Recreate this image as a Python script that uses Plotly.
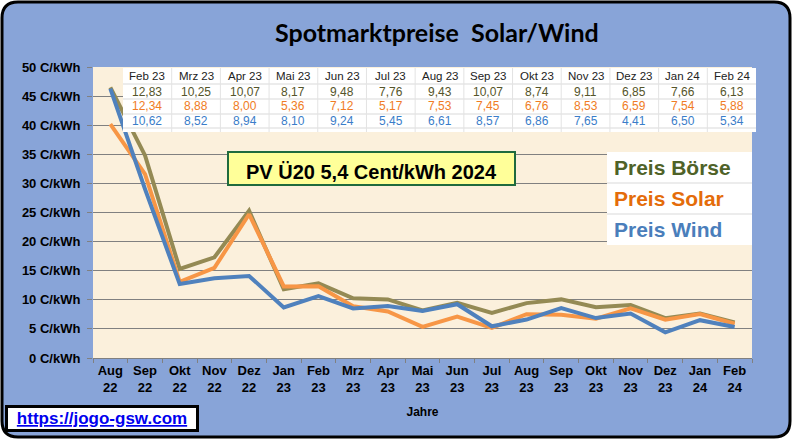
import plotly.graph_objects as go

# monthly spot market prices (ct/kWh), Aug 22 .. Feb 24
months = ["Aug 22", "Sep 22", "Okt 22", "Nov 22", "Dez 22", "Jan 23", "Feb 23", "Mrz 23",
          "Apr 23", "Mai 23", "Jun 23", "Jul 23", "Aug 23", "Sep 23", "Okt 23", "Nov 23",
          "Dez 23", "Jan 24", "Feb 24"]
boerse = [46.5, 34.8, 15.3, 17.3, 25.3, 11.8, 12.83, 10.25, 10.07, 8.17, 9.48, 7.76,
          9.43, 10.07, 8.74, 9.11, 6.85, 7.66, 6.13]
solar = [40.2, 31.6, 13.1, 15.5, 24.7, 12.3, 12.34, 8.88, 8.00, 5.36, 7.12, 5.17,
         7.53, 7.45, 6.76, 8.53, 6.59, 7.54, 5.88]
wind = [46.3, 29.0, 12.7, 13.7, 14.1, 8.7, 10.62, 8.52, 8.94, 8.10, 9.24, 5.45,
        6.61, 8.57, 6.86, 7.65, 4.41, 6.50, 5.34]
y_ticks = list(range(0, 55, 5))
table_start = 6  # table shows Feb 23 onwards

# figure geometry (pixels) -> helpers to place things in paper coords
W, H = 792, 442
L, R, T, B = 93, 40, 67, 84
pw, ph = W - L - R, H - T - B


def px(x):
    return (x - L) / pw


def py(y):
    return (H - B - y) / ph


c_boerse, c_solar, c_wind = "#948a54", "#f79646", "#4f81bd"
arial = "Liberation Sans, Arial, sans-serif"

fig = go.Figure()
for name, vals, col in [("Preis Börse", boerse, c_boerse),
                        ("Preis Solar", solar, c_solar),
                        ("Preis Wind", wind, c_wind)]:
    fig.add_trace(go.Scatter(x=months, y=vals, mode="lines", name=name,
                             line=dict(color=col, width=4)))

# rounded blue frame around everything
x0, y0, x1, y1, r = 2, 2, 790, 437, 16
frame = (f"M {px(x0 + r)},{py(y0)} L {px(x1 - r)},{py(y0)} Q {px(x1)},{py(y0)} {px(x1)},{py(y0 + r)} "
         f"L {px(x1)},{py(y1 - r)} Q {px(x1)},{py(y1)} {px(x1 - r)},{py(y1)} "
         f"L {px(x0 + r)},{py(y1)} Q {px(x0)},{py(y1)} {px(x0)},{py(y1 - r)} "
         f"L {px(x0)},{py(y0 + r)} Q {px(x0)},{py(y0)} {px(x0 + r)},{py(y0)} Z")
fig.add_shape(type="path", path=frame, xref="paper", yref="paper", layer="below",
              fillcolor="#88a4d8", line=dict(color="black", width=3))
fig.add_shape(type="rect", xref="paper", yref="paper", x0=0, x1=1, y0=0, y1=1,
              layer="below", fillcolor="#fbf0dc", line_width=0)

# value table at the top of the plot, built from shapes + annotations
tab_months = months[table_start:]
tl, tr, tt, tb = 123, 756, 68, 132
row_lines = [84, 99, 114, 128]
row_mid = [76, 92, 106.5, 121]
cw = (tr - tl) / len(tab_months)
fig.add_shape(type="rect", xref="paper", yref="paper", x0=px(tl), x1=px(tr), y0=py(tb), y1=py(tt),
              layer="above", fillcolor="white", line_width=0)
for yy in row_lines:
    fig.add_shape(type="line", xref="paper", yref="paper", x0=px(tl), x1=px(tr), y0=py(yy), y1=py(yy),
                  layer="above", line=dict(color="#d9d9d9", width=1))
for i in range(1, len(tab_months)):
    fig.add_shape(type="line", xref="paper", yref="paper", x0=px(tl + i * cw), x1=px(tl + i * cw),
                  y0=py(tb), y1=py(tt), layer="above", line=dict(color="#e3e3e3", width=1))
fmt = lambda v: f"{v:.2f}".replace(".", ",")
for i, m in enumerate(tab_months):
    k = table_start + i
    cx = px(tl + (i + 0.5) * cw)
    cells = [(m, "#222222", 11.5), (fmt(boerse[k]), "#55552a", 12),
             (fmt(solar[k]), "#f07c24", 12), (fmt(wind[k]), "#3a7dc9", 12)]
    for (txt, col, sz), yy in zip(cells, row_mid):
        fig.add_annotation(x=cx, y=py(yy), xref="paper", yref="paper", text=txt, showarrow=False,
                           xanchor="center", yanchor="middle",
                           font=dict(family=arial, size=sz, color=col))

# legend box
fig.add_shape(type="rect", xref="paper", yref="paper", x0=px(607), x1=1.0, y0=py(245), y1=py(152),
              layer="above", fillcolor="white", line_width=0)
for yy in (183, 214):
    fig.add_shape(type="line", xref="paper", yref="paper", x0=px(607), x1=1.0, y0=py(yy), y1=py(yy),
                  layer="above", line=dict(color="#d9d9d9", width=1))
for txt, yy, col in [("Preis Börse", 167, "#4f6228"), ("Preis Solar", 198, "#e46c0a"),
                     ("Preis Wind", 229, "#4a7ebb")]:
    fig.add_annotation(x=px(612), y=py(yy), xref="paper", yref="paper", text=txt, showarrow=False,
                       xanchor="left", yanchor="middle",
                       font=dict(family=arial, size=21, color=col, weight="bold"))

# yellow info box
fig.add_annotation(x=px(371), y=py(168), xref="paper", yref="paper", showarrow=False,
                   xanchor="center", yanchor="middle",
                   text="PV Ü20 5,4 Cent/kWh 2024", width=283, height=29,
                   bgcolor="#ffff99", bordercolor="#1f6b3e", borderwidth=2, borderpad=1,
                   valign="bottom", font=dict(family=arial, size=20, color="black", weight="bold"))

# title
fig.add_annotation(x=px(437), y=py(32), xref="paper", yref="paper", showarrow=False,
                   xanchor="center", yanchor="middle",
                   text="Spotmarktpreise  Solar/Wind",
                   font=dict(family="Lato, sans-serif", size=25, color="black", weight="bold"))

# link box
fig.add_annotation(x=px(102), y=py(418), xref="paper", yref="paper", showarrow=False,
                   xanchor="center", yanchor="middle",
                   text="<u>https://jogo-gsw.com</u>", width=186, height=19,
                   bgcolor="white", bordercolor="black", borderwidth=3, borderpad=1,
                   font=dict(family=arial, size=17, color="#0000ee", weight="bold"))

fig.update_layout(
    width=W, height=H,
    margin=dict(l=L, r=R, t=T, b=B),
    paper_bgcolor="white", plot_bgcolor="rgba(0,0,0,0)",
    showlegend=False,
    xaxis=dict(type="category", categoryarray=months, tickvals=months,
               ticktext=[m.replace(" ", "<br>") for m in months],
               range=[-0.5, len(months) - 0.5], tickson="boundaries",
               ticks="outside", ticklen=4, tickcolor="#808080",
               showline=True, linecolor="#808080", showgrid=False, automargin=False,
               tickfont=dict(family=arial, size=13, color="black", weight="bold"),
               title=dict(text="Jahre", standoff=14,
                          font=dict(family=arial, size=12, color="black", weight="bold"))),
    yaxis=dict(range=[0, 50], tickvals=y_ticks, ticktext=[f"{v} C/kWh" for v in y_ticks],
               showgrid=True, gridcolor="#808080", gridwidth=1, zeroline=False,
               ticks="outside", ticklen=5, tickcolor="#808080", automargin=False,
               ticklabelstandoff=4,
               tickfont=dict(family=arial, size=13, color="black", weight="bold")),
)

# drop the default page margin so the figure sits at the window's top-left corner
fig.write_html("out.html", config={"displayModeBar": False},
               post_script="document.body.style.margin='0';")
